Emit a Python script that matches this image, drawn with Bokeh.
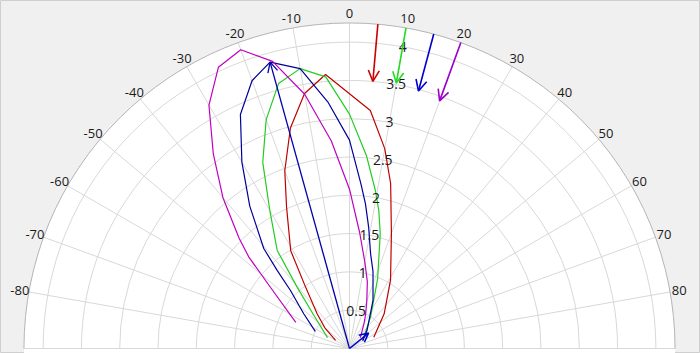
import numpy as np
from bokeh.plotting import figure
from bokeh.models import Arrow, OpenHead, Range1d
from bokeh.embed import file_html
from bokeh.resources import INLINE
from bokeh.core.properties import value

# ---------------- data ----------------
angle_ticks = [-80, -70, -60, -50, -40, -30, -20, -10, 0, 10, 20, 30, 40, 50, 60, 70, 80]
angle_labels = [str(a) for a in angle_ticks]
spoke_angles = list(range(-90, 91, 10))
radial_ticks = [0.5, 1, 1.5, 2, 2.5, 3, 3.5, 4]
radial_labels = ["0.5", "1", "1.5", "2", "2.5", "3", "3.5", "4"]
r_max = 4.25
radial_label_angle = 10

red_theta = [-60, -50, -43, -35, -31, -27, -24, -20, -15, -10, -5, 5, 10, 14, 20, 31, 45, 65]
red_r = [0.21, 0.42, 0.62, 1.03, 1.49, 1.75, 2.02, 2.47, 2.98, 3.38, 3.59, 3.12, 2.65, 2.22, 1.60, 1.04, 0.64, 0.35]

green_theta = [-63.7, -47.2, -40.5, -36.4, -30, -25, -20, -15, -10, -5, 0, 5, 9.3, 12, 15, 22, 34, 58]
green_r = [0.32, 0.63, 1.05, 1.59, 2.08, 2.68, 3.18, 3.58, 3.71, 3.56, 3.06, 2.53, 2.09, 1.84, 1.55, 0.98, 0.49, 0.20]

blue_theta = [-63.4, -52.8, -45.5, -42.8, -40.6, -35, -30, -25, -20, -15.5, -10, -5, 0, 4, 6.3, 9, 12.5, 17, 26, 44, 60]
blue_r = [0.50, 0.75, 1.08, 1.39, 1.72, 2.27, 2.81, 3.37, 3.72, 3.88, 3.71, 3.23, 2.72, 2.15, 1.90, 1.60, 1.27, 1.05, 0.70, 0.33, 0.20]

magenta_theta = [-64, -52.2, -47.8, -45, -40, -35, -30, -25, -20, -15, -10, -5, 0, 5, 10, 15, 20, 25, 30, 35, 45]
magenta_r = [0.78, 1.31, 1.77, 2.04, 2.57, 3.10, 3.67, 4.05, 4.15, 3.88, 3.37, 2.72, 2.08, 1.52, 1.15, 0.90, 0.66, 0.50, 0.38, 0.29, 0.20]

incidence_theta = [5, 10, 15, 20]
incidence_r_start = [4.25, 4.25, 4.25, 4.25]
incidence_r_end = [3.50, 3.52, 3.48, 3.44]

small_vec_theta = 51
small_vec_r = 0.32

# ---------------- layout ----------------
W, H = 700, 353
PX = 76.6
CX, CY = 349, 348
font = value("Open Sans")


def pol(theta_deg, r):
    t = np.radians(np.asarray(theta_deg, dtype=float))
    r = np.asarray(r, dtype=float)
    return r * np.sin(t), r * np.cos(t)


p = figure(width=W, height=H, output_backend="svg", toolbar_location=None,
           x_range=Range1d(-CX / PX, (W - CX) / PX),
           y_range=Range1d(-(H - CY) / PX, CY / PX),
           x_axis_location=None, y_axis_location=None,
           min_border=0, min_border_left=0, min_border_right=0,
           min_border_top=0, min_border_bottom=0)
p.grid.visible = False
p.background_fill_color = "#f0f0f0"
p.border_fill_color = "#f0f0f0"
p.outline_line_color = "#cfcfcf"

# plot area
p.wedge(x=0, y=0, radius=r_max, start_angle=0, end_angle=np.pi,
        fill_color="white", line_color=None)
p.rect(x=0, y=-0.5, width=2 * r_max, height=1.0, fill_color="white", line_color=None)

grid_col = "#d8d8d8"
p.arc(x=[0] * len(radial_ticks), y=[0] * len(radial_ticks), radius=radial_ticks,
      start_angle=0, end_angle=np.pi, line_color=grid_col, line_width=1)
sx, sy = pol(spoke_angles, [r_max] * len(spoke_angles))
p.segment(x0=[0] * len(spoke_angles), y0=[0] * len(spoke_angles), x1=sx, y1=sy,
          line_color=grid_col, line_width=1)
p.arc(x=0, y=0, radius=r_max, start_angle=0, end_angle=np.pi,
      line_color="#b4b4b4", line_width=1)

# labels
lx, ly = pol(angle_ticks, [4.37] * len(angle_ticks))
p.text(x=lx, y=ly, text=angle_labels, text_align="center", text_baseline="middle",
       text_font=font, text_font_size="13px", text_color="#1a1a1a")

rx, ry = pol([radial_label_angle] * len(radial_ticks), radial_ticks)

# curves
series = [
    (red_theta, red_r, "#c00000"),
    (green_theta, green_r, "#22cc22"),
    (blue_theta, blue_r, "#000099"),
    (magenta_theta, magenta_r, "#c000c0"),
]
for th, rr, col in series:
    x, y = pol(th, rr)
    p.line(x, y, line_color=col, line_width=1.2)

# incidence arrows
arrow_cols = ["#cc0000", "#22dd22", "#0000cc", "#9900cc"]
for th, r0, r1, col in zip(incidence_theta, incidence_r_start, incidence_r_end, arrow_cols):
    x0, y0 = pol(th, r0)
    x1, y1 = pol(th, r1)
    p.add_layout(Arrow(end=OpenHead(size=11, line_color=col, line_width=1.6),
                       x_start=float(x0), y_start=float(y0), x_end=float(x1), y_end=float(y1),
                       line_color=col, line_width=1.6))

# resultant arrows (blue)
k = int(np.argmax(blue_r))
bx, by = pol(blue_theta[k], blue_r[k])
p.add_layout(Arrow(end=OpenHead(size=10, line_color="#0000aa", line_width=1.3),
                   x_start=0, y_start=0, x_end=float(bx), y_end=float(by),
                   line_color="#0000aa", line_width=1.3))
vx, vy = pol(small_vec_theta, small_vec_r)
p.add_layout(Arrow(end=OpenHead(size=9, line_color="#0000cc", line_width=1.6),
                   x_start=0, y_start=0, x_end=float(vx), y_end=float(vy),
                   line_color="#0000cc", line_width=1.6))

p.text(x=rx, y=ry, text=radial_labels, text_align="center", text_baseline="middle",
       text_font=font, text_font_size="14px", text_color="#1a1a1a")

open("out.html", "w").write(file_html(p, INLINE))
